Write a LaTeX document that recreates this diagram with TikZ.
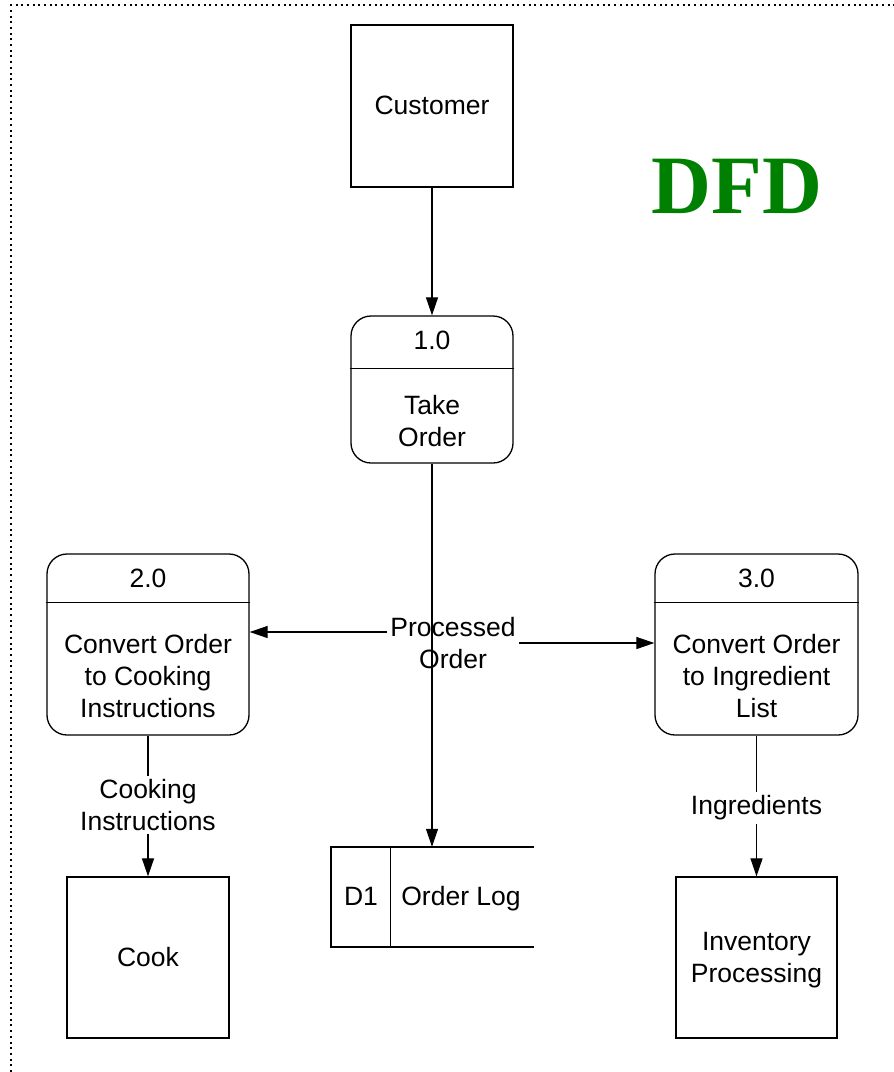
\documentclass[tikz,border=0pt]{standalone}
\usepackage{fontspec}
\setmainfont{Liberation Sans}
\newfontfamily\timesfont{Liberation Serif}
\usetikzlibrary{arrows.meta}
\definecolor{dfdgreen}{RGB}{0,128,0}
\begin{document}
\begin{tikzpicture}[x=1pt,y=-1pt,
  every node/.style={font=\fontsize{26.5}{32}\selectfont, align=center, inner sep=3pt},
  entity/.style={draw, line width=1.3pt, minimum width=162pt, minimum height=162pt},
  proc/.style={draw, line width=1.3pt, rounded corners=20pt},
  flow/.style={line width=1.2pt, -{Triangle[length=18pt,width=12pt]}},
  plainline/.style={line width=1.2pt},
  storeline/.style={line width=2pt}]
\useasboundingbox (0,0) rectangle (894,1072);
\draw[line width=2pt, dash pattern=on 2pt off 3.7pt] (11,1072) -- (11,5) -- (894,5);

% title
\node[font=\timesfont\bfseries\fontsize{83}{90}\selectfont, text=dfdgreen] (title) at (737,186) {DFD};

% external entities
\node[entity] (customer) at (432,106) {};
\node (custtxt) at (432,105) {Customer};
\node[entity, minimum height=161pt] (cook) at (148,957.5) {};
\node (cooktxt) at (148,957) {Cook};
\node[entity, minimum width=161pt, minimum height=161pt] (inv) at (756.5,957.5) {};
\node (invtxt) at (756.5,960) {Inventory\\Processing};

% process 1.0
\node[proc, minimum width=162pt, minimum height=147pt] (p1) at (432,389.5) {};
\draw[plainline] ([yshift=-53pt]p1.north west) -- ([yshift=-53pt]p1.north east);
\node (p1id) at (432,340) {1.0};
\node (p1txt) at (432,421) {Take\\Order};

% process 2.0
\node[proc, minimum width=202pt, minimum height=181pt] (p2) at (148,644.5) {};
\draw[plainline] ([yshift=-49pt]p2.north west) -- ([yshift=-49pt]p2.north east);
\node (p2id) at (148,578) {2.0};
\node (p2txt) at (148,676) {Convert Order\\to Cooking\\Instructions};

% process 3.0
\node[proc, minimum width=203pt, minimum height=181pt] (p3) at (756.5,644.5) {};
\draw[plainline] ([yshift=-49pt]p3.north west) -- ([yshift=-49pt]p3.north east);
\node (p3id) at (756.5,578) {3.0};
\node (p3txt) at (756.5,676) {Convert Order\\to Ingredient\\List};

% data store
\node[minimum width=203pt, minimum height=100pt, inner sep=0] (d1) at (432.5,897) {};
\draw[storeline] (d1.north east) -- (d1.north west) -- (d1.south west) -- (d1.south east);
\draw[plainline] ([xshift=60pt]d1.north west) -- ([xshift=60pt]d1.south west);
\node (d1id) at (361,896) {D1};
\node (d1txt) at (461,899) {Order Log};

% flows
\draw[flow] (customer.south) -- (p1.north);
\draw[flow] (p1.south) -- (d1.north -| p1.south);
\node (po) at (453,643) {Processed\\Order};
\coordinate (poleft) at ([yshift=11pt]po.west);
\draw[flow] (poleft) -- (p2.east |- poleft);
\draw[flow] (po.east) -- (p3.west |- po.east);

\node (ci) at (148,805) {Cooking\\Instructions};
\draw[plainline] (p2.south) -- (ci.north);
\draw[flow] (ci.south) -- (cook.north);

\node (ing) at (756.5,808) {Ingredients};
\draw[plainline] (p3.south) -- (ing.north);
\draw[flow] (ing.south) -- (inv.north);
\end{tikzpicture}
\end{document}
